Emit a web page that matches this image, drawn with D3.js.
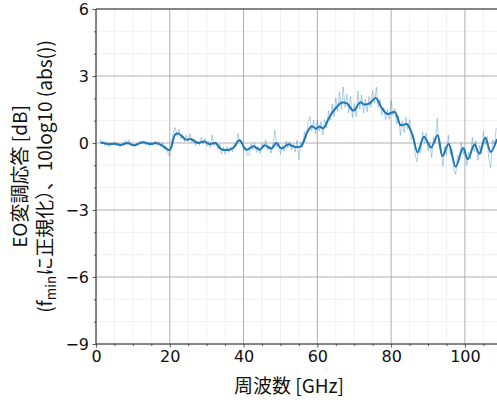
<!DOCTYPE html>
<html><head><meta charset="utf-8">
<script src="https://cdn.jsdelivr.net/npm/d3@7"></script>
<style>body{margin:0;background:#fff}svg{display:block}text{font-family:"DejaVu Sans","Noto Sans CJK JP",sans-serif}</style>
</head><body><svg id="c" width="497" height="404"></svg>
<script>
const rawFreq = [1.0,1.5,2.0,2.5,3.0,3.5,4.0,4.5,5.0,5.5,6.0,6.5,7.0,7.5,8.0,8.5,9.0,9.5,10.0,10.5,11.0,11.5,12.0,12.5,13.0,13.5,14.0,14.5,15.0,15.5,16.0,16.5,17.0,17.5,18.0,18.5,19.0,19.5,20.0,20.5,21.0,21.5,22.0,22.5,23.0,23.5,24.0,24.5,25.0,25.5,26.0,26.5,27.0,27.5,28.0,28.5,29.0,29.5,30.0,30.5,31.0,31.5,32.0,32.5,33.0,33.5,34.0,34.5,35.0,35.5,36.0,36.5,37.0,37.5,38.0,38.5,39.0,39.5,40.0,40.5,41.0,41.5,42.0,42.5,43.0,43.5,44.0,44.5,45.0,45.5,46.0,46.5,47.0,47.5,48.0,48.5,49.0,49.5,50.0,50.5,51.0,51.5,52.0,52.5,53.0,53.5,54.0,54.5,55.0,55.5,56.0,56.5,57.0,57.5,58.0,58.5,59.0,59.5,60.0,60.5,61.0,61.5,62.0,62.5,63.0,63.5,64.0,64.5,65.0,65.5,66.0,66.5,67.0,67.5,68.0,68.5,69.0,69.5,70.0,70.5,71.0,71.5,72.0,72.5,73.0,73.5,74.0,74.5,75.0,75.5,76.0,76.5,77.0,77.5,78.0,78.5,79.0,79.5,80.0,80.5,81.0,81.5,82.0,82.5,83.0,83.5,84.0,84.5,85.0,85.5,86.0,86.5,87.0,87.5,88.0,88.5,89.0,89.5,90.0,90.5,91.0,91.5,92.0,92.5,93.0,93.5,94.0,94.5,95.0,95.5,96.0,96.5,97.0,97.5,98.0,98.5,99.0,99.5,100.0,100.5,101.0,101.5,102.0,102.5,103.0,103.5,104.0,104.5,105.0,105.5,106.0,106.5,107.0,107.5,108.0,108.5];
const rawDb = [0.18,-0.03,0.06,-0.12,0.0,-0.17,0.04,-0.10,0.06,-0.13,-0.02,-0.19,-0.02,-0.11,0.11,-0.07,0.15,-0.14,-0.04,-0.18,0.0,-0.09,0.10,-0.04,0.10,-0.11,0.03,-0.14,0.07,-0.08,0.10,-0.09,0.10,-0.19,0.02,-0.27,-0.14,-0.43,-0.6,0.05,0.5,0.69,0.30,0.61,0.19,0.38,0.05,0.35,0.06,0.42,0.01,0.21,-0.11,0.10,-0.10,0.25,-0.03,0.21,-0.16,0.06,-0.20,0.36,-0.12,0.07,-0.28,-0.05,-0.47,-0.17,-0.50,-0.16,-0.42,-0.17,-0.40,-0.02,-0.13,0.43,0.04,0.10,-0.33,-0.19,-0.54,-0.54,-0.05,-0.31,-0.02,-0.42,-0.16,-0.47,-0.02,-0.22,0.14,-0.31,-0.12,-0.45,-0.04,0.56,-0.18,0.02,-0.50,-0.09,-0.38,0.08,-0.22,0.07,-0.32,-0.03,-0.41,0.14,-0.75,0.05,-0.20,0.50,0.28,0.95,1.18,0.55,1.02,0.41,1.03,0.54,0.97,0.37,1.05,0.67,1.45,1.02,1.75,1.17,2.02,1.42,2.30,1.50,2.51,1.60,2.17,1.35,2.08,1.13,1.77,1.18,2.33,1.52,2.15,1.34,1.97,1.40,2.08,1.62,2.35,1.79,2.50,1.60,1.95,1.25,1.60,1.05,1.50,1.07,1.90,1.23,1.53,0.85,1.20,0.35,0.99,0.46,1.14,0.62,1.05,0.15,0.35,-0.50,-0.85,-0.20,-0.45,0.50,-0.02,0.45,-0.35,0.03,-0.65,0.25,0.00,1.10,-0.20,-0.20,-1.03,-0.15,-0.55,0.35,-0.50,-0.30,-1.20,-1.41,-0.55,-0.75,0.00,-0.52,-0.20,-1.00,-0.40,-0.70,0.25,-0.38,0.10,-0.77,-0.10,-0.50,0.52,-0.07,0.30,-0.75,-1.10,0.15,-0.10,0.67];
const smoothFreq = [1.2,3.5,5,6.7,8.5,10.3,12.6,14.9,16.2,18,19.9,21.5,22.4,24.4,25.7,27.6,29.4,30.7,32.4,33.9,36.2,37.3,38.9,40.7,42.7,44.4,45.7,47.5,48.9,50.2,52.2,53.4,55.5,57.3,58.5,59.7,60.5,61.6,63.4,65.2,66.5,68,69.8,71.6,72.8,74.2,75.8,77.5,79,81,82.6,84.3,85.8,87.2,88.9,90.8,92.6,93.9,95.6,97.5,99.5,100.8,102.6,103.9,105.5,107,108.7];
const smoothDb = [0.03,-0.05,-0.03,-0.09,0.0,-0.1,0.03,-0.05,0.0,-0.12,-0.32,0.39,0.42,0.15,0.18,0.0,0.07,-0.05,0.0,-0.27,-0.3,-0.2,0.12,-0.3,-0.15,-0.3,-0.1,-0.25,0.0,-0.25,-0.06,-0.15,-0.15,0.5,0.75,0.64,0.74,0.66,1.2,1.6,1.8,1.77,1.45,1.82,1.72,1.78,2.02,1.55,1.3,1.38,0.8,0.84,0.35,-0.42,0.28,-0.2,0.35,-0.58,-0.05,-1.06,-0.22,-0.73,-0.07,-0.48,0.23,-0.4,0.18];
const xTicks = [0,20,40,60,80,100];
const yTicks = [-9,-6,-3,0,3,6];
const xLabel = "周波数 [GHz]";
const yLabel1 = "EO変調応答 [dB]";

const svg = d3.select("#c");
const L=96, R=497, T=9, B=344;
const x = d3.scaleLinear().domain([0,108.7]).range([L,R]);
const y = d3.scaleLinear().domain([-9,6]).range([B,T]);
const xMinor = d3.range(0,110,5).filter(v=>v%20!==0);
const yMinor = d3.range(-9,7,1).filter(v=>v%3!==0);

const g = svg.append("g");
g.selectAll(".mgx").data(xMinor).join("line").attr("x1",d=>x(d)).attr("x2",d=>x(d)).attr("y1",T).attr("y2",B).attr("stroke","#ececec").attr("stroke-width",0.8);
g.selectAll(".mgy").data(yMinor).join("line").attr("y1",d=>y(d)).attr("y2",d=>y(d)).attr("x1",L).attr("x2",R).attr("stroke","#ececec").attr("stroke-width",0.8);
g.selectAll(".gx").data(xTicks).join("line").attr("x1",d=>x(d)).attr("x2",d=>x(d)).attr("y1",T).attr("y2",B).attr("stroke","#b0b0b0").attr("stroke-width",1);
g.selectAll(".gy").data(yTicks).join("line").attr("y1",d=>y(d)).attr("y2",d=>y(d)).attr("x1",L).attr("x2",R).attr("stroke","#b0b0b0").attr("stroke-width",1);

svg.append("clipPath").attr("id","cp").append("rect").attr("x",L).attr("y",T).attr("width",R-L).attr("height",B-T);
const raw = rawFreq.map((f,i)=>[f,rawDb[i]]);
const sm = smoothFreq.map((f,i)=>[f,smoothDb[i]]);
svg.append("path").datum(raw).attr("clip-path","url(#cp)")
  .attr("d",d3.line().x(d=>x(d[0])).y(d=>y(d[1])))
  .attr("fill","none").attr("stroke","#1f77b4").attr("stroke-opacity",0.35).attr("stroke-width",1);
svg.append("path").datum(sm).attr("clip-path","url(#cp)")
  .attr("d",d3.line().x(d=>x(d[0])).y(d=>y(d[1])).curve(d3.curveCatmullRom.alpha(0.5)))
  .attr("fill","none").attr("stroke","#1f77b4").attr("stroke-width",2);

const fmt = d=> d<0 ? "\u2212"+Math.abs(d) : String(d);
const ax = svg.append("g").attr("transform",`translate(0,${B})`)
  .call(d3.axisBottom(x).tickValues(xTicks).tickFormat(fmt).tickSize(3.5).tickPadding(3.5));
const axm = svg.append("g").attr("transform",`translate(0,${B})`)
  .call(d3.axisBottom(x).tickValues(xMinor).tickFormat("").tickSize(2));
const ay = svg.append("g").attr("transform",`translate(${L},0)`)
  .call(d3.axisLeft(y).tickValues(yTicks).tickFormat(fmt).tickSize(3.5).tickPadding(3.5));
const aym = svg.append("g").attr("transform",`translate(${L},0)`)
  .call(d3.axisLeft(y).tickValues(yMinor).tickFormat("").tickSize(2));
[ax,axm,ay,aym].forEach(a=>{a.select(".domain").remove();a.selectAll("line").attr("stroke","#333").attr("stroke-width",0.8);});
[ax,ay].forEach(a=>a.selectAll("text").attr("font-size",16).attr("fill","#111").style("font-family","DejaVu Sans"));
svg.append("line").attr("x1",L).attr("x2",R).attr("y1",B).attr("y2",B).attr("stroke","#333").attr("stroke-width",1);
svg.append("line").attr("x1",L).attr("x2",L).attr("y1",T).attr("y2",B).attr("stroke","#333").attr("stroke-width",1);
svg.append("line").attr("x1",L).attr("x2",R).attr("y1",T).attr("y2",T).attr("stroke","#333").attr("stroke-width",1);

const lf = "'Noto Sans CJK JP', sans-serif";
svg.append("text").attr("x",289).attr("y",393).attr("text-anchor","middle").attr("font-size",19).style("font-family",lf).attr("fill","#111").text(xLabel);
const cy = (T+B)/2;
svg.append("text").attr("transform",`translate(27,${cy}) rotate(-90)`).attr("text-anchor","middle").attr("font-size",19).style("font-family",lf).attr("fill","#111").text(yLabel1);
const t2 = svg.append("text").attr("transform",`translate(52,${cy}) rotate(-90)`).attr("text-anchor","middle").attr("font-size",19).style("font-family",lf).attr("fill","#111");
t2.append("tspan").text("(f");
t2.append("tspan").attr("font-size",13.5).attr("dy",4).text("min");
t2.append("tspan").attr("dy",-4).text("に正規化）、10log10 (abs())");
</script></body></html>
